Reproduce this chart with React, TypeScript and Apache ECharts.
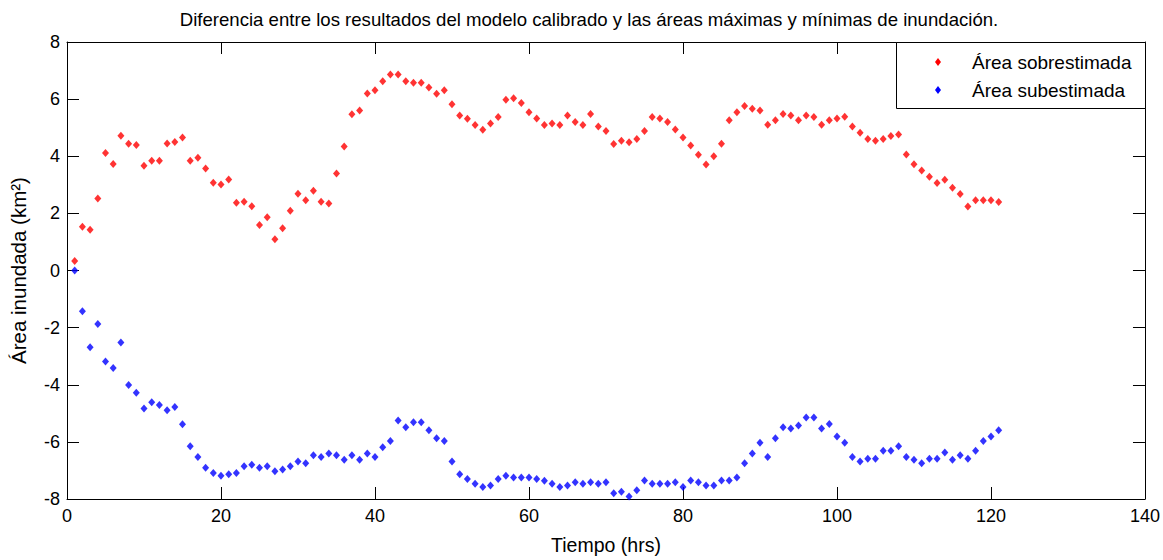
import React, { useEffect, useRef } from "react";
import * as echarts from "echarts";

const titleText =
  "Diferencia entre los resultados del modelo calibrado y las áreas máximas y mínimas de inundación.";
const xName = "Tiempo (hrs)";
const yName = "Área inundada (km²)";
const seriesNames = ["Área sobrestimada", "Área subestimada"];

// Hourly values, hours 1..121
const overestimated = [
  0.33, 1.53, 1.43, 2.52, 4.11, 3.73, 4.72, 4.44, 4.39, 3.67,
  3.84, 3.84, 4.45, 4.5, 4.66, 3.84, 3.95, 3.57, 3.07, 3.01,
  3.19, 2.37, 2.41, 2.25, 1.59, 1.86, 1.09, 1.48, 2.09, 2.69,
  2.46, 2.79, 2.41, 2.35, 3.4, 4.34, 5.47, 5.6, 6.2, 6.31,
  6.63, 6.86, 6.86, 6.63, 6.57, 6.57, 6.41, 6.19, 6.31, 5.82,
  5.43, 5.31, 5.09, 4.93, 5.15, 5.37, 5.98, 6.03, 5.86, 5.54,
  5.32, 5.09, 5.15, 5.09, 5.43, 5.2, 5.09, 5.48, 5.04, 4.88,
  4.43, 4.54, 4.49, 4.6, 4.88, 5.37, 5.32, 5.2, 4.94, 4.66,
  4.38, 4.05, 3.71, 4.0, 4.44, 5.26, 5.54, 5.76, 5.66, 5.6,
  5.1, 5.26, 5.48, 5.43, 5.26, 5.43, 5.37, 5.1, 5.26, 5.32,
  5.38, 5.04, 4.82, 4.6, 4.54, 4.6, 4.71, 4.76, 4.06, 3.72,
  3.5, 3.28, 3.06, 3.18, 2.9, 2.68, 2.24, 2.46, 2.46, 2.46,
  2.4,
];

const underestimated = [
  0.0, -1.43, -2.69, -1.87, -3.19, -3.41, -2.52, -4.01, -4.28, -4.83,
  -4.61, -4.71, -4.89, -4.78, -5.38, -6.15, -6.53, -6.91, -7.09, -7.19,
  -7.13, -7.09, -6.85, -6.8, -6.91, -6.85, -7.03, -6.97, -6.85, -6.69,
  -6.75, -6.47, -6.53, -6.41, -6.47, -6.63, -6.47, -6.63, -6.41, -6.53,
  -6.19, -5.97, -5.25, -5.49, -5.31, -5.31, -5.59, -5.87, -5.97, -6.69,
  -7.13, -7.3, -7.47, -7.58, -7.53, -7.3, -7.19, -7.25, -7.25, -7.25,
  -7.3, -7.36, -7.47, -7.58, -7.53, -7.41, -7.47, -7.41, -7.47, -7.41,
  -7.8, -7.75, -7.91, -7.69, -7.35, -7.47, -7.47, -7.47, -7.41, -7.58,
  -7.35, -7.41, -7.53, -7.53, -7.35, -7.35, -7.25, -6.75, -6.41, -6.03,
  -6.53, -5.87, -5.49, -5.53, -5.43, -5.15, -5.15, -5.53, -5.37, -5.81,
  -6.03, -6.53, -6.69, -6.59, -6.59, -6.31, -6.31, -6.15, -6.53, -6.63,
  -6.75, -6.59, -6.59, -6.37, -6.63, -6.47, -6.59, -6.31, -5.97, -5.81,
  -5.59,
];

const xMin = 0;
const xMax = 140;
const xStep = 20;
const yMin = -8;
const yMax = 8;
const yStep = 2;

const FONT = "'Liberation Sans', Arial, sans-serif";

export default function App() {
  const ref = useRef<HTMLDivElement>(null);

  useEffect(() => {
    if (!ref.current) return;
    const chart = echarts.init(ref.current, undefined, { renderer: "svg" });
    const toPairs = (arr: number[]) => arr.map((v, i) => [i + 1, v]);
    const axisLine = { show: true, onZero: false, lineStyle: { color: "#000", width: 1 } };
    const tick = { show: true, inside: true, length: 12, lineStyle: { color: "#000", width: 1 } };
    const label = { color: "#000", fontFamily: FONT, fontSize: 18 };

    chart.setOption({
      animation: false,
      backgroundColor: "#fff",
      textStyle: { fontFamily: FONT },
      title: {
        text: titleText,
        left: 584,
        top: 5,
        textAlign: "center",
        textStyle: { fontFamily: FONT, fontSize: 18.6, fontWeight: "normal", color: "#000" },
      },
      grid: { left: 67, top: 42, right: 18, bottom: 58, show: false },
      xAxis: [
        {
          type: "value",
          min: xMin,
          max: xMax,
          interval: xStep,
          axisLine,
          axisTick: tick,
          axisLabel: { ...label, margin: 8 },
          splitLine: { show: false },
          name: xName,
          nameLocation: "middle",
          nameGap: 36,
          nameTextStyle: { color: "#000", fontFamily: FONT, fontSize: 19.5 },
        },
        {
          type: "value",
          position: "top",
          min: xMin,
          max: xMax,
          interval: xStep,
          axisLine,
          axisTick: tick,
          axisLabel: { show: false },
          splitLine: { show: false },
        },
      ],
      yAxis: [
        {
          type: "value",
          min: yMin,
          max: yMax,
          interval: yStep,
          axisLine,
          axisTick: tick,
          axisLabel: { ...label, margin: 7 },
          splitLine: { show: false },
          name: yName,
          nameLocation: "middle",
          nameGap: 38,
          nameTextStyle: { color: "#000", fontFamily: FONT, fontSize: 20.5 },
        },
        {
          type: "value",
          position: "right",
          min: yMin,
          max: yMax,
          interval: yStep,
          axisLine,
          axisTick: tick,
          axisLabel: { show: false },
          splitLine: { show: false },
        },
      ],
      series: [
        {
          name: seriesNames[0],
          type: "scatter",
          data: toPairs(overestimated),
          symbol: "diamond",
          symbolSize: [7, 8],
          itemStyle: { color: "#ff0000" },
        },
        {
          name: seriesNames[1],
          type: "scatter",
          data: toPairs(underestimated),
          symbol: "diamond",
          symbolSize: [7, 8],
          itemStyle: { color: "#0000ff" },
        },
      ],
      graphic: [
        {
          type: "rect",
          shape: { x: 896.5, y: 42.5, width: 249, height: 66 },
          style: { fill: "#fff", stroke: "#000", lineWidth: 1 },
          z: 100,
        },
        {
          type: "polygon",
          shape: { points: [[938, 58], [941, 62], [938, 66], [935, 62]] },
          style: { fill: "#ff0000" },
          z: 101,
        },
        {
          type: "polygon",
          shape: { points: [[938, 86], [941, 90], [938, 94], [935, 90]] },
          style: { fill: "#0000ff" },
          z: 101,
        },
        {
          type: "text",
          x: 972,
          y: 62,
          style: {
            text: seriesNames[0],
            fontFamily: FONT,
            fontSize: 19,
            fill: "#000",
            verticalAlign: "middle",
          },
          z: 101,
        },
        {
          type: "text",
          x: 972,
          y: 90,
          style: {
            text: seriesNames[1],
            fontFamily: FONT,
            fontSize: 19,
            fill: "#000",
            verticalAlign: "middle",
          },
          z: 101,
        },
      ],
    });
    return () => chart.dispose();
  }, []);

  return (
    <div
      ref={ref}
      style={{ position: "fixed", left: 0, top: 0, width: 1163, height: 560 }}
    />
  );
}
